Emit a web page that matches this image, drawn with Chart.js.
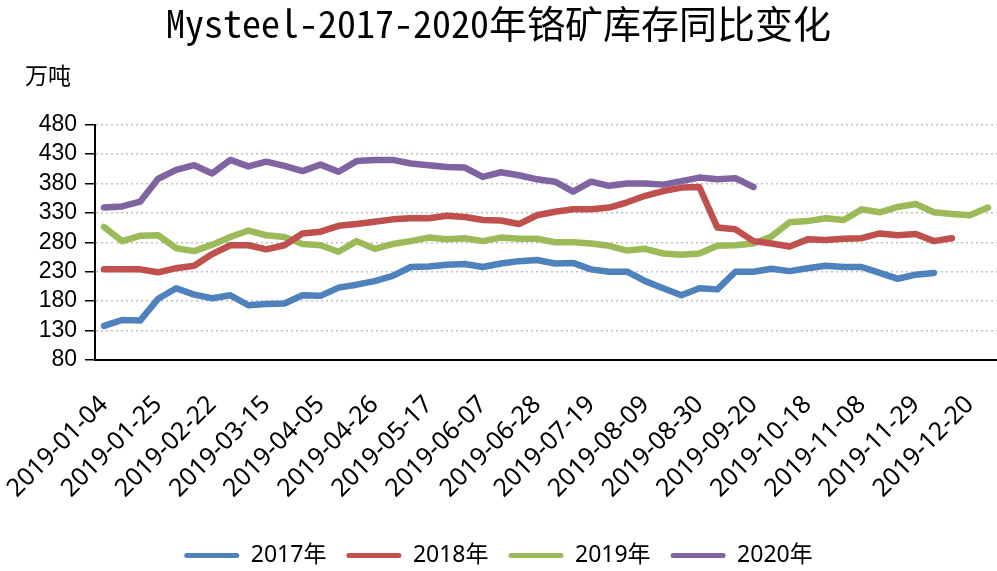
<!DOCTYPE html>
<html>
<head>
<meta charset="utf-8">
<script src="https://cdn.jsdelivr.net/npm/chart.js@4"></script>
<style>
  html, body { margin: 0; padding: 0; background: #fff; overflow: hidden; }
  #wrap { width: 997px; height: 571px; }
</style>
</head>
<body>
<div id="wrap"><canvas id="chartChrome"></canvas></div>
<script>
// weekly dates (CNY week and National Day week missing)
var dates = ["2019-01-04","2019-01-11","2019-01-18","2019-01-25","2019-02-01","2019-02-15","2019-02-22",
  "2019-03-01","2019-03-08","2019-03-15","2019-03-22","2019-03-29","2019-04-05","2019-04-12","2019-04-19",
  "2019-04-26","2019-05-03","2019-05-10","2019-05-17","2019-05-24","2019-05-31","2019-06-07","2019-06-14",
  "2019-06-21","2019-06-28","2019-07-05","2019-07-12","2019-07-19","2019-07-26","2019-08-02","2019-08-09",
  "2019-08-16","2019-08-23","2019-08-30","2019-09-06","2019-09-13","2019-09-20","2019-09-27","2019-10-11",
  "2019-10-18","2019-10-25","2019-11-01","2019-11-08","2019-11-15","2019-11-22","2019-11-29","2019-12-06",
  "2019-12-13","2019-12-20","2019-12-27"];

var seriesNames = ["2017年", "2018年", "2019年", "2020年"];

var y2017 = [138,148,147,184,202,191,185,190,173,175,176,190,189,203,208,214,223,238,239,242,243,238,244,248,
  250,244,245,234,230,230,214,202,190,202,200,230,230,235,231,236,240,238,238,228,218,225,228];
var y2018 = [234,234,234,229,236,240,260,275,275,268,275,295,298,308,311,315,319,321,321,325,323,318,317,311,
  326,332,336,336,339,348,359,367,373,374,305,302,282,278,273,285,284,286,287,295,292,294,282,287];
var y2019 = [306,282,291,292,270,265,276,289,300,292,289,277,275,264,282,269,277,282,288,285,287,282,288,286,
  286,280,280,278,274,266,269,261,259,261,274,275,278,290,314,316,321,318,336,331,340,345,331,328,326,339];
var y2020 = [339,341,349,388,403,411,397,420,409,417,410,401,412,400,418,420,420,414,411,408,407,391,399,394,
  387,383,366,383,376,380,380,378,384,390,387,389,374];

var yTicks = [80, 130, 180, 230, 280, 330, 380, 430, 480];
var colors = ["#4f81bd", "#c0504d", "#9bbb59", "#8064a2"];

var unitLabel = {
    id: "unitLabel",
    afterDraw: function(chart) {
        var ctx = chart.ctx;
        ctx.save();
        ctx.font = "23px 'Noto Sans CJK SC'";
        ctx.fillStyle = "#000";
        ctx.textAlign = "left";
        ctx.textBaseline = "middle";
        ctx.fillText("万吨", 25, 75);
        ctx.restore();
    }
};

var allData = [y2017, y2018, y2019, y2020];
var ctx = document.getElementById("chartChrome").getContext("2d");
var chart = new Chart(ctx, {
    type: "line",
    data: {
        labels: dates,
        datasets: allData.map(function(d, i) {
            return {
                label: seriesNames[i],
                data: d,
                borderColor: colors[i],
                backgroundColor: colors[i],
                borderWidth: 6.5,
                borderJoinStyle: "round",
                borderCapStyle: "round",
                pointRadius: 0,
                tension: 0,
                fill: false
            };
        })
    },
    options: {
        responsive: true,
        maintainAspectRatio: false,
        animation: false,
        layout: { padding: { left: 0, right: 0, top: 0, bottom: -6 } },
        plugins: {
            title: {
                display: true,
                text: "Mysteel-2017-2020年铬矿库存同比变化",
                color: "#000",
                font: { family: "'Noto Sans Mono CJK SC', 'DejaVu Sans Mono', monospace", size: 38, weight: "normal" },
                padding: { top: 1, bottom: 78 }
            },
            legend: {
                position: "bottom",
                labels: {
                    color: "#000",
                    font: { family: "'Noto Sans', 'Noto Sans CJK SC'", size: 23 },
                    boxWidth: 55,
                    boxHeight: 5,
                    useBorderRadius: true,
                    borderRadius: 2.5,
                    padding: 20,
                    generateLabels: function(chart) {
                        var items = Chart.defaults.plugins.legend.labels.generateLabels(chart);
                        items.forEach(function(it) { it.lineWidth = 0; });
                        return items;
                    }
                }
            },
            tooltip: { enabled: false }
        },
        scales: {
            x: {
                offset: true,
                grid: { display: false, drawTicks: false },
                border: { display: true, color: "#000", width: 2 },
                afterFit: function(axis) {
                    axis.paddingLeft = 0;
                    axis.paddingRight = 0;
                    axis.height = 164;
                },
                ticks: {
                    autoSkip: false,
                    maxRotation: 45,
                    minRotation: 45,
                    padding: 30,
                    color: "#000",
                    font: { family: "'Noto Sans'", size: 25 },
                    callback: function(value, index) {
                        return index % 3 === 0 ? dates[index] : "";
                    }
                }
            },
            y: {
                min: yTicks[0],
                max: yTicks[yTicks.length - 1],
                afterBuildTicks: function(axis) {
                    axis.ticks = yTicks.map(function(v) { return { value: v }; });
                },
                afterFit: function(axis) {
                    axis.width = 95;
                },
                grid: {
                    color: "#bfbfbf",
                    lineWidth: 1.5,
                    drawTicks: true,
                    tickLength: 10,
                    tickColor: "#000",
                    tickWidth: 1.5
                },
                border: { display: true, color: "#000", width: 2, dash: [2, 3] },
                ticks: {
                    autoSkip: false,
                    padding: 8,
                    color: "#000",
                    font: { family: "'Liberation Sans', Arial", size: 23 }
                }
            }
        }
    },
    plugins: [unitLabel]
});
</script>
</body>
</html>
